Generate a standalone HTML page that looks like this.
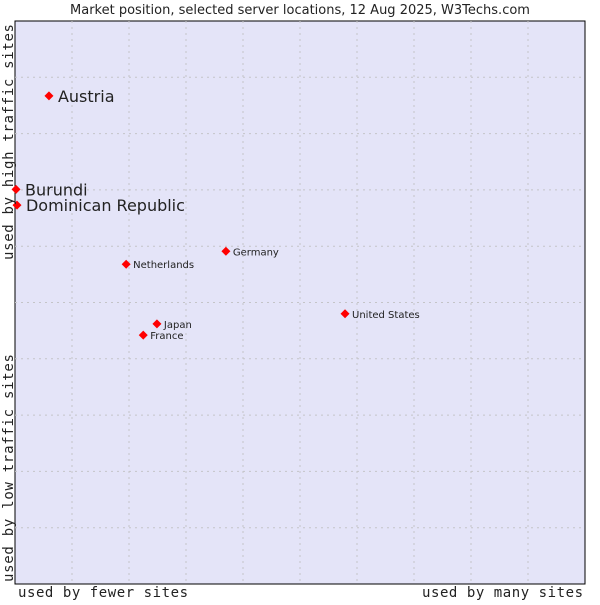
<!DOCTYPE html>
<html><head><meta charset="utf-8"><style>
body{margin:0;background:#fff;width:600px;height:600px;overflow:hidden}
svg text{font-family:"DejaVu Sans",sans-serif;fill:#222}
.mono{font-family:"DejaVu Sans Mono","Liberation Mono",monospace}
</style></head><body>
<svg width="600" height="600">
<text x="300" y="14" text-anchor="middle" font-size="13">Market position, selected server locations, 12 Aug 2025, W3Techs.com</text>
<rect x="15" y="21" width="570" height="563" fill="#e4e4f8" stroke="#000" stroke-width="1"/>
<g id="grid"></g>
<g id="pts"></g>
<text x="18" y="597" font-size="14" class="mono" textLength="170">used by fewer sites</text>
<text x="422" y="597" font-size="14" class="mono" textLength="161">used by many sites</text>
<text transform="translate(13,260) rotate(-90)" font-size="14" class="mono" textLength="236">used by high traffic sites</text>
<text transform="translate(13,582) rotate(-90)" font-size="14" class="mono" textLength="228">used by low traffic sites</text>
</svg>
<script>
const names=["Austria","Burundi","Dominican Republic","Germany","Netherlands","United States","Japan","France"];
const xVals=[5.96,0.18,0.35,37.0,19.5,57.9,24.9,22.5];
const yVals=[86.7,70.1,67.3,59.1,56.8,48.0,46.2,44.2];
const big=[true,true,true,false,false,false,false,false];
const L=15,T=21,W=570,H=563;
const sx=v=>L+v/100*W, sy=v=>T+H-v/100*H;
const NS="http://www.w3.org/2000/svg";
const g=document.getElementById('grid'),p=document.getElementById('pts');
for(let i=1;i<10;i++){
 let l=document.createElementNS(NS,'line');
 
 
 l.setAttribute('x1',L+i*W/10);l.setAttribute('x2',L+i*W/10);l.setAttribute('y1',T);l.setAttribute('y2',T+H);
 l.setAttribute('stroke','#c4c4c8');l.setAttribute('stroke-dasharray','2,4');g.appendChild(l);
 let h=document.createElementNS(NS,'line');
 
 
 h.setAttribute('y1',T+i*H/10);h.setAttribute('y2',T+i*H/10);h.setAttribute('x1',L);h.setAttribute('x2',L+W);
 h.setAttribute('stroke','#c4c4c8');h.setAttribute('stroke-dasharray','2,4');g.appendChild(h);
}
names.forEach((n,i)=>{
 const x=sx(xVals[i]),y=sy(yVals[i]);
 const d=document.createElementNS(NS,'path');
 
 
 d.setAttribute('d',`M${x-4.5},${y}L${x},${y-4.5}L${x+4.5},${y}L${x},${y+4.5}Z`);
 d.setAttribute('fill','#ff0000');p.appendChild(d);
 const t=document.createElementNS(NS,'text');
 
 
 t.setAttribute('x',x+(big[i]?9:7));t.setAttribute('y',y+(big[i]?6:4));
 t.setAttribute('font-size',big[i]?16:10);t.textContent=n;p.appendChild(t);
});
</script>
</body></html>
